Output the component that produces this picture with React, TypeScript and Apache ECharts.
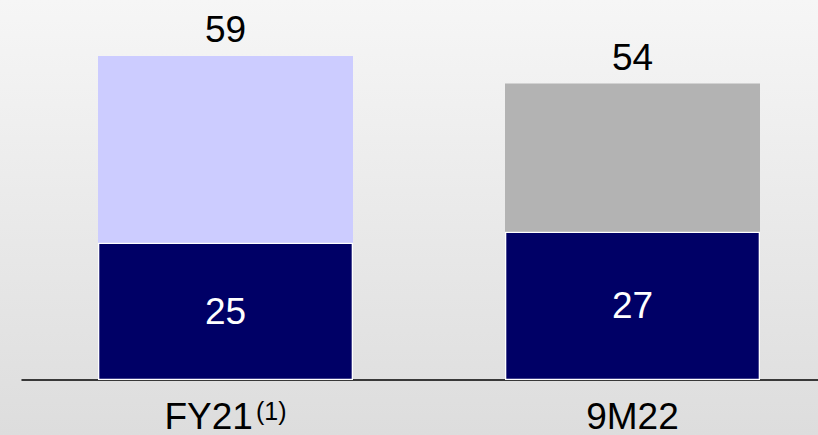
import React, { useEffect, useRef } from "react";
import * as echarts from "echarts";

const categories = ["FY21", "9M22"];
const baseValues = [25, 27];
const topValues = [34, 27];
const totals = [59, 54];
const topColors = ["#ccccff", "#b3b3b3"];

export default function App() {
  const ref = useRef<HTMLDivElement>(null);
  useEffect(() => {
    if (!ref.current) return;
    const chart = echarts.init(ref.current, null, { renderer: "svg" });
    const font = "'Liberation Sans', Arial, sans-serif";
    chart.setOption({
      animation: false,
      backgroundColor: {
        type: "linear",
        x: 0,
        y: 0,
        x2: 0,
        y2: 1,
        colorStops: [
          { offset: 0, color: "#f6f6f6" },
          { offset: 1, color: "#dddddd" },
        ],
      },
      grid: { left: 22, top: 50.6, width: 814, bottom: 55 },
      xAxis: {
        type: "category",
        data: categories,
        axisLine: { lineStyle: { color: "#000000", width: 1.5 } },
        axisTick: { show: false },
        axisLabel: {
          margin: 18,
          fontFamily: font,
          fontSize: 37,
          lineHeight: 36,
          color: "#000000",
          formatter: (v: string) => (v === "FY21" ? "FY21{sup|(1)}" : v),
          rich: {
            sup: {
              fontFamily: font,
              fontSize: 25,
              lineHeight: 25,
              color: "#000000",
              verticalAlign: "top",
              padding: [0, 0, 0, 3],
            },
          },
        },
      },
      yAxis: {
        type: "value",
        min: 0,
        max: 60,
        show: false,
        splitLine: { show: false },
      },
      series: [
        {
          type: "bar",
          stack: "s",
          data: baseValues,
          barWidth: 255,
          itemStyle: { color: "#000066", borderColor: "#ffffff", borderWidth: 1.3 },
          label: {
            show: true,
            position: "inside",
            color: "#ffffff",
            fontFamily: font,
            fontSize: 37,
          },
        },
        {
          type: "bar",
          stack: "s",
          barWidth: 255,
          data: topValues.map((v, i) => ({ value: v, itemStyle: { color: topColors[i] } })),
          label: {
            show: true,
            position: "top",
            distance: 8,
            color: "#000000",
            fontFamily: font,
            fontSize: 37,
            formatter: (p: any) => String(totals[p.dataIndex]),
          },
        },
      ],
    });
    return () => chart.dispose();
  }, []);
  return (
    <div style={{ width: 818, height: 435, position: "absolute", left: 0, top: 0, overflow: "hidden" }}>
      <div ref={ref} style={{ width: 850, height: 435 }} />
    </div>
  );
}
